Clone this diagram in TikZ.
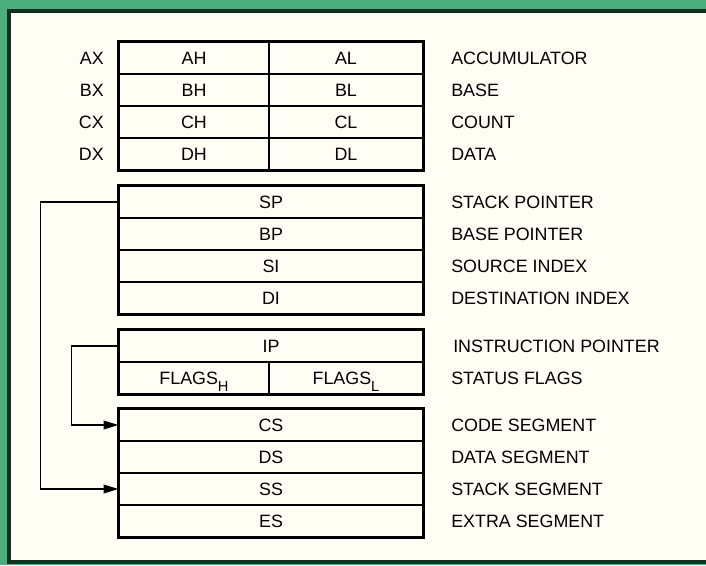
\documentclass[tikz,border=0pt]{standalone}
\usepackage{fontspec}
\setmainfont{Liberation Sans}
\usepackage{xcolor}
\usepackage{tikz}
\usetikzlibrary{arrows.meta, positioning, calc}

\definecolor{boardgreen}{RGB}{76,174,124}
\definecolor{paper}{RGB}{255,253,244}
\definecolor{frame}{RGB}{20,46,32}

\newcommand{\lowsub}[1]{\raisebox{-0.75ex}{\fontsize{11}{11}\selectfont #1}}

\tikzset{
  reg/.style={draw, line width=1pt, inner sep=0pt, minimum height=24pt,
              text height=9.6pt, text depth=0pt, font=\fontsize{13.4}{15}\selectfont},
  full/.style={reg, minimum width=228pt},
  halfl/.style={reg, minimum width=112.5pt},
  halfr/.style={reg, minimum width=115.5pt},
  group/.style={line width=2pt},
  tag/.style={inner sep=0pt, text height=9.6pt, text depth=0pt,
              font=\fontsize{13.4}{15}\selectfont},
  link/.style={line width=1.1pt, -{Triangle[length=11pt,width=6.5pt]}}
}

\begin{document}
\begin{tikzpicture}[x=0.75pt, y=-0.75pt]

%---------------- Board ----------------%
\useasboundingbox (0,0) rectangle (706,565);
\fill[boardgreen] (0,0) rectangle (706,565);
\filldraw[fill=paper, draw=frame, line width=3pt] (9,11) rectangle (712,562);

%---------------- General registers ----------------%
\node[halfl] (ah) at (194,58) {AH};
\node[halfr] (al) at (346,58) {AL};
\node[halfl] (bh) at (194,90) {BH};
\node[halfr] (bl) at (346,90) {BL};
\node[halfl] (ch) at (194,122) {CH};
\node[halfr] (cl) at (346,122) {CL};
\node[halfl] (dh) at (194,154) {DH};
\node[halfr] (dl) at (346,154) {DL};
\draw[group] (ah.north west) rectangle (dl.south east);

\node[tag, anchor=east] (ax) at (104,58) {AX};
\node[tag, anchor=east] (bx) at (104,90) {BX};
\node[tag, anchor=east] (cx) at (104,122) {CX};
\node[tag, anchor=east] (dx) at (104,154) {DX};

\node[tag, anchor=west] (acc) at (451,58) {ACCUMULATOR};
\node[tag, anchor=west] (base) at (451,90) {BASE};
\node[tag, anchor=west] (count) at (451,122) {COUNT};
\node[tag, anchor=west] (data) at (451,154) {DATA};

%---------------- Pointer and index ----------------%
\node[full] (sp) at (271,202) {SP};
\node[full] (bp) at (271,234) {BP};
\node[full] (si) at (271,266) {SI};
\node[full] (di) at (271,298) {DI};
\draw[group] (sp.north west) rectangle (di.south east);

\node[tag, anchor=west] (stackp) at (451,202) {STACK POINTER};
\node[tag, anchor=west] (basep) at (451,234) {BASE POINTER};
\node[tag, anchor=west] (srcidx) at (451,266) {SOURCE INDEX};
\node[tag, anchor=west] (dstidx) at (451,298) {DESTINATION INDEX};

%---------------- IP and flags ----------------%
\node[full] (ip) at (271,346) {IP};
\node[halfl] (flagsh) at (194,378) {FLAGS\lowsub{H}};
\node[halfr] (flagsl) at (346,378) {FLAGS\lowsub{L}};
\draw[group] (ip.north west) rectangle (flagsl.south east);

\node[tag, anchor=west] (instp) at (453,346) {INSTRUCTION POINTER};
\node[tag, anchor=west] (status) at (451,378) {STATUS FLAGS};

%---------------- Segment registers ----------------%
\node[full] (cs) at (271,425) {CS};
\node[full] (ds) at (271,457) {DS};
\node[full] (ss) at (271,489) {SS};
\node[full] (es) at (271,521) {ES};
\draw[group] (cs.north west) rectangle (es.south east);

\node[tag, anchor=west] (codeseg) at (451,425) {CODE SEGMENT};
\node[tag, anchor=west] (dataseg) at (451,457) {DATA SEGMENT};
\node[tag, anchor=west] (stackseg) at (451,489) {STACK SEGMENT};
\node[tag, anchor=west] (extraseg) at (451,521) {EXTRA SEGMENT};

%---------------- Links ----------------%
\draw[link] (sp.west) -- ++(-78,0) |- (ss.west);
\draw[link] (ip.west) -- ++(-47,0) |- (cs.west);

\end{tikzpicture}
\end{document}
